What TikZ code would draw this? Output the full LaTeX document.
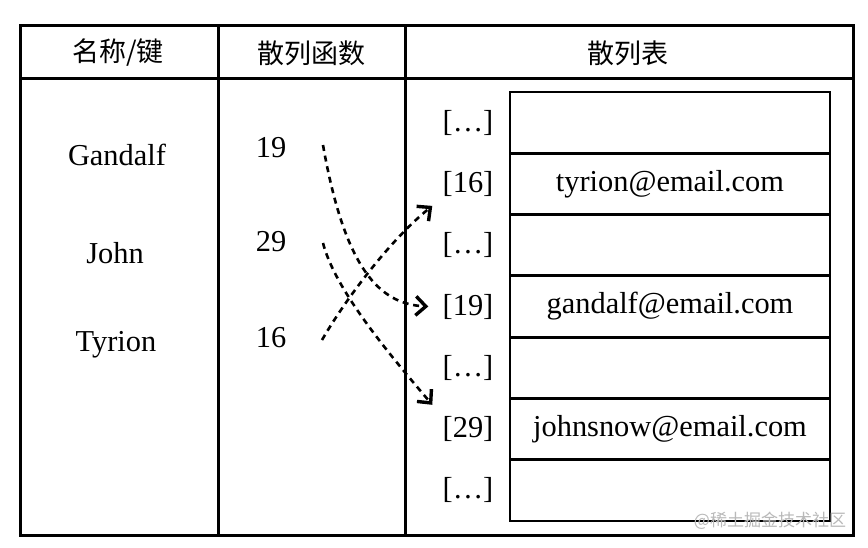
\documentclass[tikz,border=0pt]{standalone}
\usepackage{fontspec}
\setmainfont{Liberation Serif}
\newfontfamily\cjk{Noto Sans CJK SC}
\usetikzlibrary{arrows.meta}
\definecolor{wmgrey}{RGB}{185,185,185}
\begin{document}
\begin{tikzpicture}[x=0.5pt,y=-0.5pt,
  frame/.style={line width=1.5pt},
  head/.style={font=\cjk\fontsize{13.5}{15}\selectfont, inner sep=0pt},
  txt/.style={font=\fontsize{15.2}{18}\selectfont, inner sep=1pt},
  cell/.style={draw, line width=1.4pt, minimum width=160pt, minimum height=30.65pt, inner sep=0pt, font=\fontsize{15.2}{18}\selectfont},
  conn/.style={line width=1.3pt, dash pattern=on 3pt off 2.4pt, -{Straight Barb[length=5pt,width=9.5pt,line width=1.7pt]}},
  wm/.style={font=\cjk\fontsize{8.5}{10}\selectfont, text=wmgrey, inner sep=0pt}]
\useasboundingbox (0,0) rectangle (868,547);
\fill[white] (0,0) rectangle (868,547);
% outer table
\draw[frame] (20,25) rectangle (853,535);
\draw[frame] (20,78) -- (853,78);
\draw[frame] (218,25) -- (218,535);
\draw[frame] (405,25) -- (405,535);
% headers
\node[head] (h1) at (118,53) {名称/键};
\node[head] (h2) at (311,53) {散列函数};
\node[head] (h3) at (628,53) {散列表};
% keys
\node[txt] (kG) at (117,155) {Gandalf};
\node[txt] (kJ) at (115,253) {John};
\node[txt] (kT) at (116,345) {Tyrion};
% hashes
\node[txt] (n19) at (271,148) {19};
\node[txt] (n29) at (271,242) {29};
\node[txt] (n16) at (271,338) {16};
% hash table
\foreach \i/\t in {0/{},1/{tyrion@email.com},2/{},3/{gandalf@email.com},4/{},5/{johnsnow@email.com},6/{}}{
  \node[cell] (c\i) at (670,{122.6+61.3*\i}) {\t};
}
\foreach \i/\t in {0/{[…]},1/{[16]},2/{[…]},3/{[19]},4/{[…]},5/{[29]},6/{[…]}}{
  \node[txt] (i\i) at (468,{122.6+61.3*\i}) {\t};
}
% connectors
\coordinate (s19) at (323,145);
\coordinate (s29) at (323,243);
\coordinate (s16) at (322,340);
\coordinate (e19) at ([xshift=-6pt]i3.west);
\coordinate (e16) at ([xshift=-4pt,yshift=-11pt]i1.west);
\coordinate (e29) at ([xshift=-4pt,yshift=-18.5pt]i4.west);
\draw[conn] (s19) .. controls (345,270) and (380,304) .. (e19);
\draw[conn] (s29) .. controls (335,290) and (390,355) .. (e29);
\draw[conn] (s16) .. controls (345,300) and (390,240) .. (e16);
% watermark
\node[wm] (wmk) at (770,521) {@稀土掘金技术社区};
\end{tikzpicture}
\end{document}
